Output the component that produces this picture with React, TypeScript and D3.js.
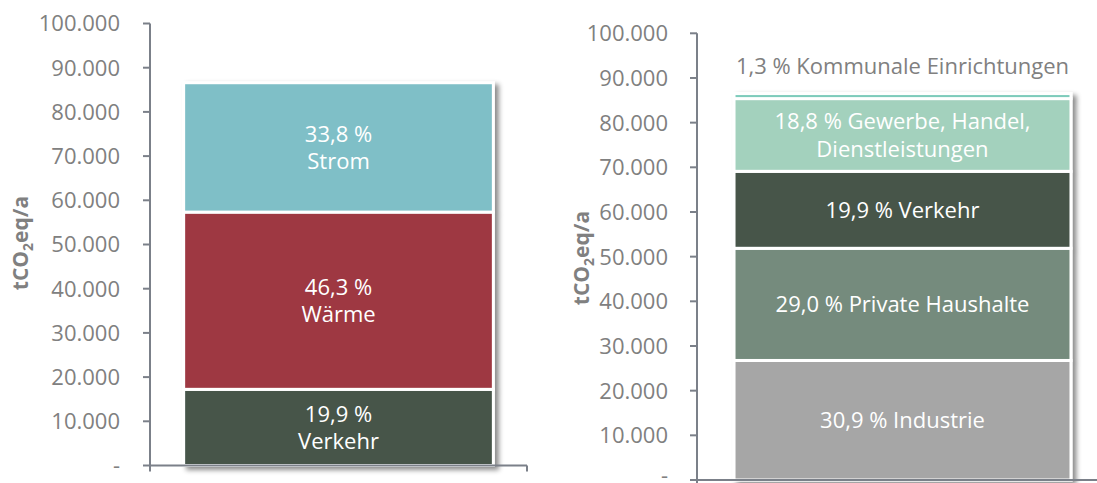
import React from "react";
import * as d3 from "d3";

const leftCategories = ["Verkehr", "Wärme", "Strom"];
const leftValues = [17230, 40100, 29270];
const leftPercents = ["19,9 %", "46,3 %", "33,8 %"];
const leftColors = ["#46554a", "#9e3942", "#7fbfc7"];

const rightCategories = ["Industrie", "Private Haushalte", "Verkehr", "Gewerbe, Handel, Dienstleistungen", "Kommunale Einrichtungen"];
const rightValues = [26760, 25110, 17230, 16280, 1130];
const rightPercents = ["30,9 %", "29,0 %", "19,9 %", "18,8 %", "1,3 %"];
const rightColors = ["#a6a6a6", "#748b7d", "#46554a", "#a3d1bd", "#7ecbbb"];

const tickValues = [0, 10000, 20000, 30000, 40000, 50000, 60000, 70000, 80000, 90000, 100000];

const de = d3.formatLocale({ decimal: ",", thousands: ".", grouping: [3], currency: ["", " €"] });
const fmt = (v: number) => (v === 0 ? "-" : de.format(",")(v));

const FONT = "Open Sans";
const AXIS = "#7b8089";
const LABEL = "#808080";

function stack(values: number[]) {
  let acc = 0;
  return values.map((v) => {
    const s = { y0: acc, y1: acc + v };
    acc += v;
    return s;
  });
}

function Axis({ y, x0, x1, labelX }: { y: d3.ScaleLinear<number, number>; x0: number; x1: number; labelX: number }) {
  const top = y(100000);
  const base = y(0);
  return (
    <g>
      <line x1={x0} x2={x0} y1={top} y2={base + 6} stroke={AXIS} strokeWidth={2} />
      <line x1={x0} x2={x1} y1={base} y2={base} stroke={AXIS} strokeWidth={2} />
      <line x1={x1} x2={x1} y1={base} y2={base + 6} stroke={AXIS} strokeWidth={2} />
      {tickValues.map((t) => (
        <g key={t}>
          <line x1={x0 - 7} x2={x0} y1={y(t)} y2={y(t)} stroke={AXIS} strokeWidth={2} />
          <text x={labelX} y={Math.min(y(t), 475)} dy="0.36em" textAnchor="end" fontFamily={FONT} fontSize={22} fill={LABEL}>
            {fmt(t)}
          </text>
        </g>
      ))}
    </g>
  );
}

function YTitle({ x, y }: { x: number; y: number }) {
  return (
    <text transform={`translate(${x},${y}) rotate(-90)`} textAnchor="middle" dy="0.36em" fontFamily={FONT} fontWeight="bold" fontSize={21} fill={LABEL}>
      tCO<tspan fontSize={14} dy={5}>2</tspan>
      <tspan dy={-5}>eq/a</tspan>
    </text>
  );
}

export default function App() {
  const yL = d3.scaleLinear().domain([0, 100000]).range([465.5, 23.5]);
  const yR = d3.scaleLinear().domain([0, 100000]).range([480, 33.3]);
  const xL = d3.scaleBand<string>().domain(["Gesamt"]).range([150, 527]).padding(0.098);
  const xR = d3.scaleBand<string>().domain(["Sektoren"]).range([697, 1108]).padding(0.099);

  const sL = stack(leftValues);
  const sR = stack(rightValues);
  const lx = xL("Gesamt")!;
  const lw = xL.bandwidth();
  const rx = xR("Sektoren")!;
  const rw = xR.bandwidth();

  const rightLabelLines = [
    [`${rightPercents[0]} ${rightCategories[0]}`],
    [`${rightPercents[1]} ${rightCategories[1]}`],
    [`${rightPercents[2]} ${rightCategories[2]}`],
    [`${rightPercents[3]} Gewerbe, Handel,`, "Dienstleistungen"],
  ];

  return (
    <svg width={1097} height={483} style={{ position: "absolute", left: 0, top: 0, background: "#fff" }}>
      <defs>
        <filter id="sh" x="-10%" y="-10%" width="130%" height="130%">
          <feDropShadow dx={4} dy={3} stdDeviation={2.5} floodColor="#000" floodOpacity={0.45} />
        </filter>
      </defs>

      {/* left chart */}
      <g filter="url(#sh)">
        {sL.map((s, i) => (
          <rect key={i} x={lx} width={lw} y={yL(s.y1)} height={yL(s.y0) - yL(s.y1)} fill={leftColors[i]} stroke="#fff" strokeWidth={3} />
        ))}
      </g>
      {sL.map((s, i) => {
        const m = (yL(s.y0) + yL(s.y1)) / 2;
        return (
          <g key={i}>
            <text x={lx + lw / 2} y={m - 13.5} dy="0.36em" textAnchor="middle" fontFamily={FONT} fontSize={22} fill="#fff">{leftPercents[i]}</text>
            <text x={lx + lw / 2} y={m + 13.5} dy="0.36em" textAnchor="middle" fontFamily={FONT} fontSize={22} fill="#fff">{leftCategories[i]}</text>
          </g>
        );
      })}
      <Axis y={yL} x0={150} x1={527} labelX={120} />
      <YTitle x={20} y={243} />

      {/* right chart */}
      <g filter="url(#sh)">
        {sR.map((s, i) => (
          <rect key={i} x={rx} width={rw} y={yR(s.y1)} height={yR(s.y0) - yR(s.y1)} fill={rightColors[i]} stroke="#fff" strokeWidth={3} />
        ))}
      </g>
      {rightLabelLines.map((lines, i) => {
        const m = (yR(sR[i].y0) + yR(sR[i].y1)) / 2;
        const off = ((lines.length - 1) * 28) / 2;
        return (
          <g key={i}>
            {lines.map((l, j) => (
              <text key={j} x={rx + rw / 2} y={m - off + j * 28} dy="0.36em" textAnchor="middle" fontFamily={FONT} fontSize={22} fill="#fff">{l}</text>
            ))}
          </g>
        );
      })}
      <text x={rx + rw / 2} y={yR(sR[4].y1) - 27} dy="0.36em" textAnchor="middle" fontFamily={FONT} fontSize={22} fill={LABEL}>
        {`${rightPercents[4]} ${rightCategories[4]}`}
      </text>
      <Axis y={yR} x0={697} x1={1108} labelX={668} />
      <YTitle x={581} y={258} />
    </svg>
  );
}
